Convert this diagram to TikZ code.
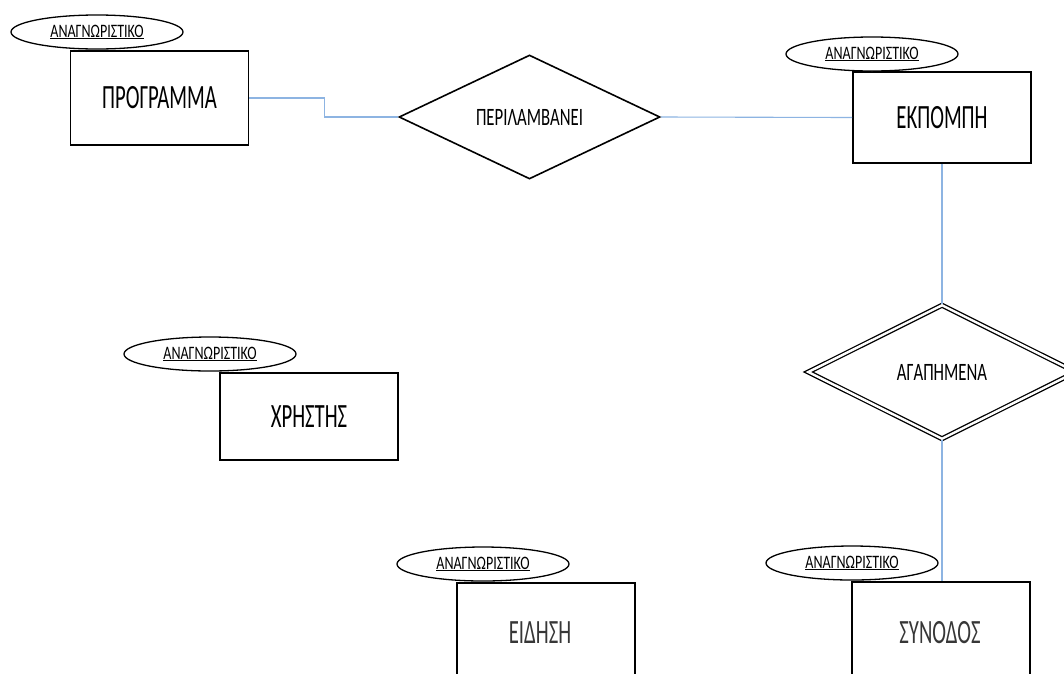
\documentclass[tikz,border=0pt]{standalone}
\usepackage{fontspec}
\setmainfont{Carlito}
\newfontfamily\bigf[FakeStretch=0.61]{Carlito}
\newfontfamily\relf[FakeStretch=0.67]{Carlito}
\newfontfamily\lblf[FakeStretch=0.74]{Carlito}
\usetikzlibrary{shapes.geometric}
\definecolor{conncol}{RGB}{141,180,226}
\definecolor{fadetxt}{RGB}{55,55,55}
\begin{document}
\begin{tikzpicture}[x=1pt,y=-1pt,
  entity/.style={draw=black, line width=1.6pt, fill=white, rectangle, inner sep=0pt,
     minimum width=178pt, font=\bigf\fontsize{34pt}{34pt}\selectfont},
  keyattr/.style={draw=black, line width=1.3pt, fill=white, ellipse, inner sep=0pt,
     minimum width=172pt, minimum height=34pt, font=\lblf\fontsize{19pt}{19pt}\selectfont},
  rel/.style={draw=black, line width=1.6pt, fill=white, diamond, inner sep=0pt,
     font=\relf\fontsize{25pt}{25pt}\selectfont},
  conn/.style={draw=conncol, line width=1.1pt},
  fadelabel/.style={font=\bigf\fontsize{34pt}{34pt}\selectfont, text=fadetxt}
]
\useasboundingbox (0,0) rectangle (1064,673);
\fill[white] (0,0) rectangle (1064,673);

% entities
\node[entity, minimum height=94pt] (prog) at (159.5,98) {ΠΡΟΓΡΑΜΜΑ};
\node[entity, minimum height=91pt] (ekp) at (942,117.5) {ΕΚΠΟΜΠΗ};
\node[entity, minimum height=87pt] (xri) at (309,416.5) {ΧΡΗΣΤΗΣ};
\node[entity, minimum height=110pt] (eid) at (546,638) {};
\node[entity, minimum height=110pt] (syn) at (941,637) {};
\node[fadelabel] (eidt) at (540,633) {ΕΙΔΗΣΗ};
\node[fadelabel] (synt) at (940,633) {ΣΥΝΟΔΟΣ};

% relationships
\node[rel, minimum width=261pt, minimum height=124pt] (perl) at (529.5,117) {ΠΕΡΙΛΑΜΒΑΝΕΙ};
\node[rel, double, double distance=2.4pt, line width=1.3pt, minimum width=268pt, minimum height=134pt] (agap) at (942,372) {ΑΓΑΠΗΜΕΝΑ};

% connectors
\draw[conn] (prog.east) -- ++(75,0) |- (perl.west);
\draw[conn] (perl.east) -- (ekp.west);
\draw[conn] (ekp.south) -- (agap.north);
\draw[conn] (agap.south) -- (agap.south |- syn.north);

% key attributes
\node[keyattr] (kprog) at (97,32) {\underline{ΑΝΑΓΝΩΡΙΣΤΙΚΟ}};
\node[keyattr] (kekp) at (872,54) {\underline{ΑΝΑΓΝΩΡΙΣΤΙΚΟ}};
\node[keyattr] (kxri) at (210,354) {\underline{ΑΝΑΓΝΩΡΙΣΤΙΚΟ}};
\node[keyattr] (keid) at (483,564) {\underline{ΑΝΑΓΝΩΡΙΣΤΙΚΟ}};
\node[keyattr] (ksyn) at (852,563) {\underline{ΑΝΑΓΝΩΡΙΣΤΙΚΟ}};
\end{tikzpicture}
\end{document}
